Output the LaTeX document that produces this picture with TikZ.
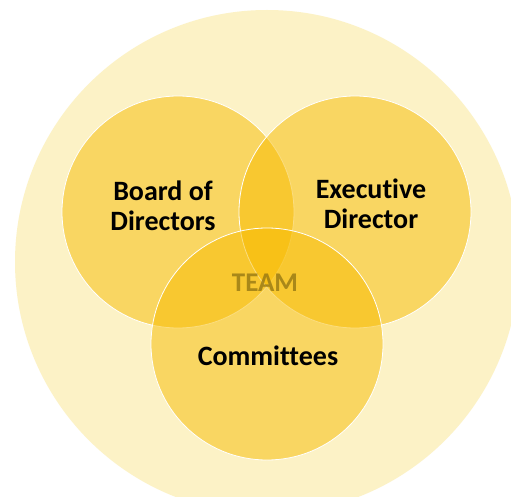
\documentclass[tikz,border=0pt]{standalone}
\usepackage{fontspec}
\setmainfont{Carlito}[Ligatures={NoCommon}]
\definecolor{outer}{RGB}{252,242,198}
\definecolor{gold}{RGB}{248,188,0}
\definecolor{teamtext}{RGB}{150,120,20}
\begin{document}
\begin{tikzpicture}[x=1pt,y=-1pt,
  ring/.style={circle, minimum size=232pt, inner sep=0pt, fill=gold, fill opacity=0.5, draw=white, line width=0.8pt, draw opacity=1},
  label/.style={font=\bfseries\fontsize{28}{30}\selectfont, align=center, text=black, text opacity=1}]
  \useasboundingbox (0,0) rectangle (511,497);
  \fill[white] (0,0) rectangle (511,497);
  \begin{scope}
    \clip (0,0) rectangle (511,497);
    \node[circle, minimum size=504pt, inner sep=0pt, fill=outer] (team) at (267,262) {};
  \end{scope}
  \node[ring] (board) at (178,212) {};
  \node[ring] (exec) at (355,212) {};
  \node[ring] (comm) at (267,344) {};
  \node[label] (boardt) at (163,206) {Board of\\Directors};
  \node[label] (exect) at (371,204) {Executive\\Director};
  \node[label] (commt) at (268,356) {Committees};
  \node[font=\bfseries\fontsize{27}{30}\selectfont, text=teamtext, text opacity=0.8] (teamt) at (265,283) {TEAM};
\end{tikzpicture}
\end{document}
